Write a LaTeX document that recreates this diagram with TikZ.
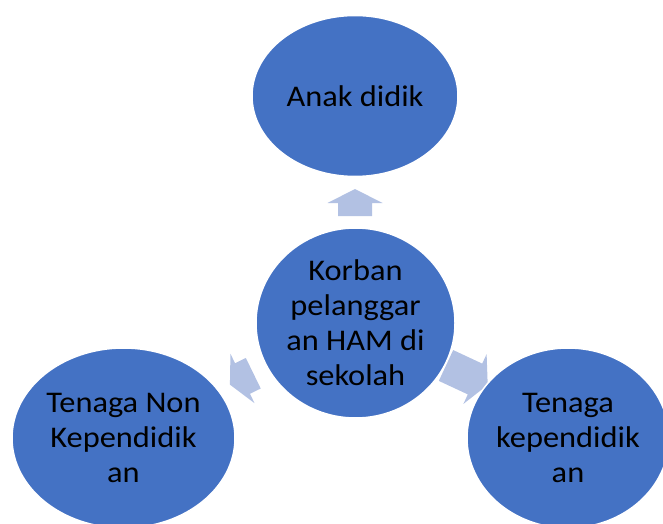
\documentclass[tikz,border=0pt]{standalone}
\usepackage{fontspec}
\setmainfont{Carlito}[FakeStretch=1.08]
\usetikzlibrary{shapes.geometric}
\definecolor{blobblue}{HTML}{4472C4}
\definecolor{arrowfill}{RGB}{178,193,227}
\begin{document}
\begin{tikzpicture}[x=1pt,y=1pt,
  blob/.style={ellipse, fill=blobblue, draw=white, line width=1.5pt, inner sep=-8pt,
    align=center, font=\fontsize{30}{35}\selectfont, text=black},
  blockarrow/.style={fill=arrowfill}]
\clip (0,0) rectangle (663,523);
% block arrows (drawn beneath the ellipses)
\begin{scope}[shift={(355,320)}, rotate=90]
  \fill[blockarrow] (14,0) -- (0,27.5) -- (0,17) -- (-13,17) -- (-13,-17) -- (0,-17) -- (0,-27.5) -- cycle;
\end{scope}
\begin{scope}[shift={(242.5,144.5)}, rotate=206]
  \fill[blockarrow] (14,0) -- (0,27.5) -- (0,17) -- (-12,17) -- (-12,-17) -- (0,-17) -- (0,-27.5) -- cycle;
\end{scope}
\begin{scope}[shift={(475,144)}, rotate=335]
  \fill[blockarrow] (14,0) -- (0,27.5) -- (0,17) -- (-32,17) -- (-32,-17) -- (0,-17) -- (0,-27.5) -- cycle;
\end{scope}
% ellipses
\node[blob, minimum width=206pt, minimum height=161pt] (anak) at (355,427) {Anak didik};
\node[blob, minimum width=223pt, minimum height=180pt] (non) at (123.5,85) {Tenaga Non\\Kependidik\\an};
\node[blob, minimum width=202pt, minimum height=180pt] (tk) at (568,85) {Tenaga\\kependidik\\an};
\node[blob, minimum width=199pt, minimum height=190pt] (korban) at (355.5,200) {Korban\\pelanggar\\an HAM di\\sekolah};
\end{tikzpicture}
\end{document}
